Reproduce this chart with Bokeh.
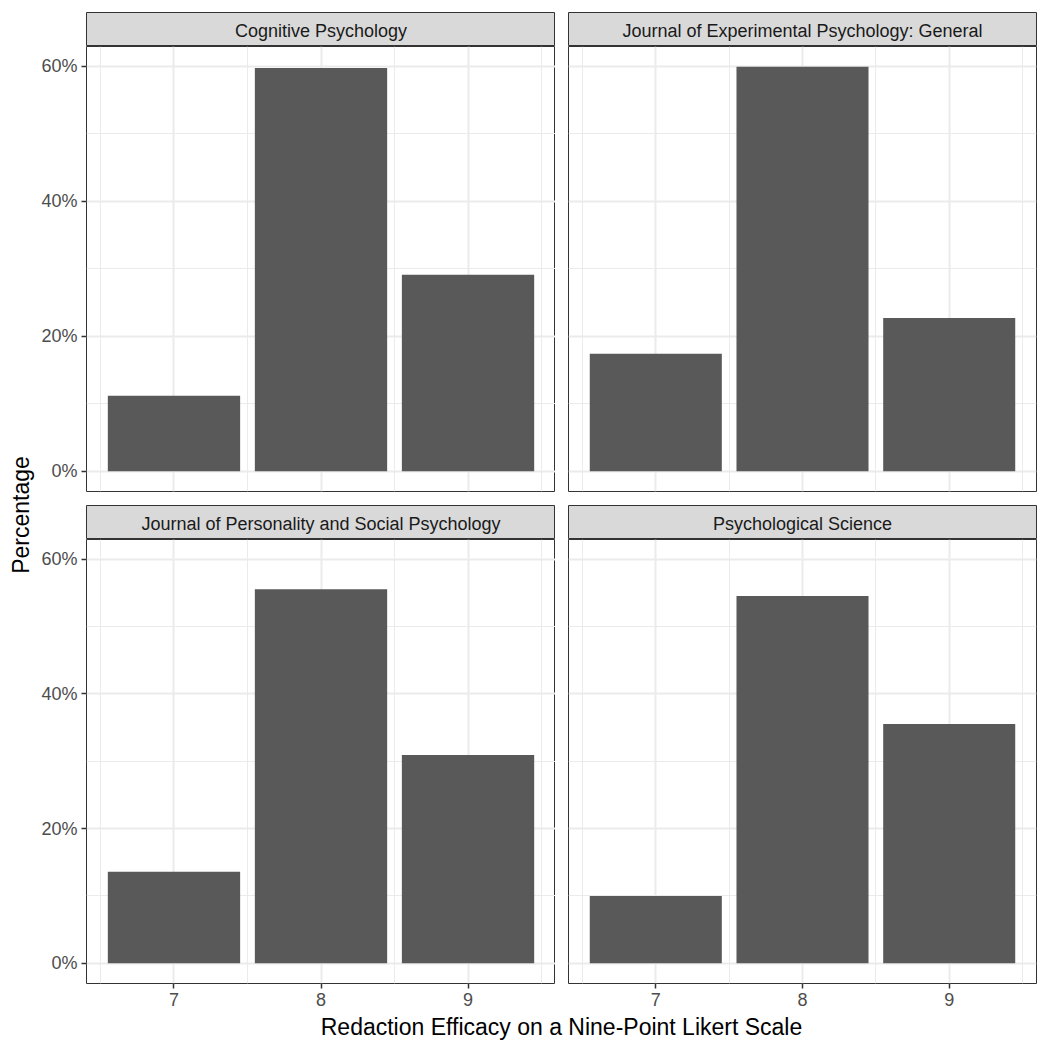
import math
from bokeh.plotting import figure
from bokeh.models import Range1d, FixedTicker, Grid, LinearAxis, PrintfTickFormatter
from bokeh.layouts import row, column
from bokeh.embed import file_html
from bokeh.resources import INLINE
from bokeh.core.properties import value

# ---------------- data ----------------
journals = [
    "Cognitive Psychology",
    "Journal of Experimental Psychology: General",
    "Journal of Personality and Social Psychology",
    "Psychological Science",
]
ratings = [7, 8, 9]
cog_psych = [11.2, 59.7, 29.1]
jep_general = [17.4, 59.9, 22.7]
jpsp = [13.6, 55.5, 30.9]
psych_science = [10.0, 54.5, 35.5]
y_ticks = [0, 20, 40, 60]
y_minor = [10, 30, 50]
x_minor = [6.5, 7.5, 8.5, 9.5]
x_title = "Redaction Efficacy on a Nine-Point Likert Scale"
y_title = "Percentage"

series = [cog_psych, jep_general, jpsp, psych_science]

# ---------------- style ----------------
FONT = "Liberation Sans"
BAR = "#595959"
GRID = "#EBEBEB"
BORDER = "#333333"
STRIP = "#D9D9D9"

bar_w = 0.9
all_vals = [v for s in series for v in s]
ymax = max(all_vals)
y_lo, y_hi = -0.05 * ymax, ymax * 1.05
x0 = min(ratings) - bar_w / 2
x1 = max(ratings) + bar_w / 2
x_lo, x_hi = x0 - 0.05 * (x1 - x0), x1 + 0.05 * (x1 - x0)

LEFT_W = 469
RIGHT_W = 468
LEFT_B = 50
GAP = 13
RIGHT_B = 4
TOP_PAD = 12


def strip_grids(p):
    p.center = [r for r in p.center if not isinstance(r, Grid)]


def style_axis(ax):
    ax.axis_line_color = None
    ax.major_tick_line_color = BORDER
    ax.major_tick_line_width = 1.5
    ax.major_tick_out = 5
    ax.major_tick_in = 0
    ax.minor_tick_line_color = None
    ax.major_label_text_font = FONT
    ax.major_label_text_font_size = "18px"
    ax.major_label_text_color = "#4D4D4D"
    ax.major_label_standoff = 4


def make_panel(vals, fw, fh, left, right, bottom, show_x, show_y):
    p = figure(frame_width=fw, frame_height=fh,
               x_range=Range1d(x_lo, x_hi), y_range=Range1d(y_lo, y_hi),
               x_axis_location=None, y_axis_location=None,
               toolbar_location=None, output_backend="svg",
               min_border=0, min_border_left=left, min_border_right=right,
               min_border_bottom=bottom, min_border_top=0)
    strip_grids(p)
    gx = Grid(dimension=0, ticker=FixedTicker(ticks=ratings, minor_ticks=x_minor),
              grid_line_color=GRID, grid_line_width=2,
              minor_grid_line_color=GRID, minor_grid_line_width=1)
    gy = Grid(dimension=1, ticker=FixedTicker(ticks=y_ticks, minor_ticks=y_minor),
              grid_line_color=GRID, grid_line_width=2,
              minor_grid_line_color=GRID, minor_grid_line_width=1)
    p.add_layout(gx)
    p.add_layout(gy)
    p.vbar(x=ratings, top=vals, bottom=0, width=bar_w,
           fill_color=BAR, line_color=None)
    if show_y:
        ay = LinearAxis(ticker=FixedTicker(ticks=y_ticks),
                        formatter=PrintfTickFormatter(format="%d%%"))
        style_axis(ay)
        p.add_layout(ay, "left")
    if show_x:
        ax = LinearAxis(ticker=FixedTicker(ticks=ratings))
        style_axis(ax)
        p.add_layout(ax, "below")
    p.background_fill_color = "white"
    p.border_fill_color = "white"
    p.outline_line_color = BORDER
    p.outline_line_width = 1
    return p


def make_strip(title, fw, left, right, top):
    s = figure(frame_width=fw, frame_height=34,
               x_range=Range1d(0, 1), y_range=Range1d(0, 1),
               x_axis_location=None, y_axis_location=None,
               toolbar_location=None, output_backend="svg",
               min_border=0, min_border_left=left, min_border_right=right,
               min_border_top=top, min_border_bottom=0)
    strip_grids(s)
    s.background_fill_color = STRIP
    s.border_fill_color = "white"
    s.outline_line_color = BORDER
    s.outline_line_width = 1
    s.text(x=[0.5], y=[0.47], text=[title], text_align="center",
           text_baseline="middle", text_font=value(FONT),
           text_font_size="18px", text_color="#1A1A1A")
    return s


strip_tl = make_strip(journals[0], LEFT_W, LEFT_B, 0, TOP_PAD)
strip_tr = make_strip(journals[1], RIGHT_W, GAP, RIGHT_B, TOP_PAD)
panel_tl = make_panel(series[0], LEFT_W, 445, LEFT_B, 0, 14, False, True)
panel_tr = make_panel(series[1], RIGHT_W, 445, GAP, RIGHT_B, 14, False, False)
strip_bl = make_strip(journals[2], LEFT_W, LEFT_B, 0, 0)
strip_br = make_strip(journals[3], RIGHT_W, GAP, RIGHT_B, 0)
panel_bl = make_panel(series[2], LEFT_W, 444, LEFT_B, 0, 31, True, True)
panel_br = make_panel(series[3], RIGHT_W, 444, GAP, RIGHT_B, 31, True, False)

main_w = LEFT_B + LEFT_W + GAP + RIGHT_W + RIGHT_B
XLAB_H = 26
xlab = figure(width=main_w, height=XLAB_H, x_range=Range1d(0, main_w),
              y_range=Range1d(0, XLAB_H), x_axis_location=None,
              y_axis_location=None, toolbar_location=None,
              output_backend="svg", min_border=0)
strip_grids(xlab)
xlab.outline_line_color = None
xlab.text(x=[LEFT_B + (LEFT_W + GAP + RIGHT_W) / 2], y=[XLAB_H / 2 + 1],
          text=[x_title], text_align="center", text_baseline="middle",
          text_font=value(FONT), text_font_size="23px", text_color="black")

total_h = (TOP_PAD + 34) + (445 + 14) + 34 + (444 + 31) + XLAB_H
YLAB_W = 36
ylab = figure(width=YLAB_W, height=total_h, x_range=Range1d(0, YLAB_W),
              y_range=Range1d(0, total_h), x_axis_location=None,
              y_axis_location=None, toolbar_location=None,
              output_backend="svg", min_border=0)
strip_grids(ylab)
ylab.outline_line_color = None
panel_top = TOP_PAD + 34
panel_bottom = TOP_PAD + 34 + 445 + 14 + 34 + 444
ylab.text(x=[20], y=[total_h - (panel_top + panel_bottom) / 2],
          text=[y_title], text_align="center", text_baseline="middle",
          angle=math.pi / 2, text_font=value(FONT), text_font_size="23px",
          text_color="black")

layout = row(
    ylab,
    column(
        row(strip_tl, strip_tr),
        row(panel_tl, panel_tr),
        row(strip_bl, strip_br),
        row(panel_bl, panel_br),
        xlab,
    ),
)

open("out.html", "w").write(file_html(layout, INLINE))
